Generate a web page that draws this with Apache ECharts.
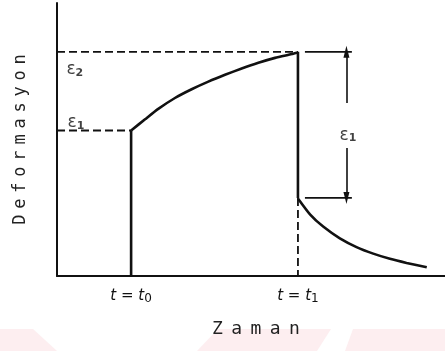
<!DOCTYPE html>
<html>
<head>
<meta charset="utf-8">
<script src="https://cdn.jsdelivr.net/npm/echarts@6/dist/echarts.min.js"></script>
<style>html,body{margin:0;padding:0;background:#fff}#c{width:445px;height:351px}</style>
</head>
<body>
<div id="c"></div>
<script>
// ---- data (arbitrary units, 0..10 on both axes) ----
const xRange = [0, 10];
const yRange = [0, 10];
const t0 = 1.91;
const t1 = 6.21;
const eps1Level = 5.33;
const eps2Level = 8.21;
const unloadLevel = 2.86;
const loadX = [1.91, 2.27, 2.61, 3.04, 3.47, 3.90, 4.33, 4.76, 5.19, 5.62, 6.05, 6.21];
const loadY = [5.33, 5.74, 6.12, 6.52, 6.84, 7.12, 7.37, 7.60, 7.81, 7.99, 8.13, 8.19];
const recX = [6.21, 6.52, 6.86, 7.29, 7.72, 8.15, 8.58, 9.01, 9.53];
const recY = [2.84, 2.26, 1.81, 1.38, 1.06, 0.82, 0.63, 0.48, 0.32];
const tickValues = [t0, t1];
const tickSubs = ['0', '1'];
const dimX = 7.46, dimLeft = 6.39, dimRight = 7.60;
const arrowTopEnd = 6.34, arrowBottomStart = 4.69;
const labelPoints = [[0.46, 7.55], [0.49, 5.62], [7.50, 5.16]];
const labelSubs = ['2', '1', '1'];
const xName = 'Zaman';
const yName = 'Deformasyon';

const zip = (xs, ys) => xs.map((x, i) => [x, ys[i]]);
const spaced = (s, style) => s.split('').map(ch => '{' + style + '|' + ch + '}').join('');

const solid = { color: '#111', width: 2.6 };
const dashed = { color: '#111', width: 1.8, type: [8, 4] };

const chart = echarts.init(document.getElementById('c'), null, { renderer: 'canvas' });
chart.setOption({
  backgroundColor: '#fff',
  animation: false,
  graphic: [
    { type: 'polygon', z: -10, shape: { points: [[0, 329], [33, 329], [57, 351], [0, 351]] }, style: { fill: '#fdeef0' } },
    { type: 'polygon', z: -10, shape: { points: [[218, 329], [331, 329], [317, 351], [197, 351]] }, style: { fill: '#fdeef0' } },
    { type: 'polygon', z: -10, shape: { points: [[353, 329], [445, 329], [445, 351], [345, 351]] }, style: { fill: '#fdeef0' } }
  ],
  grid: { left: 57, right: 0, top: 3, bottom: 75 },
  xAxis: {
    type: 'value', min: xRange[0], max: xRange[1],
    axisLine: { lineStyle: { color: '#111', width: 2 } },
    axisTick: { show: false },
    splitLine: { show: false },
    axisLabel: {
      customValues: tickValues,
      margin: 11,
      formatter: (v) => {
        const i = tickValues.indexOf(v);
        return '{t|t = t}{s|' + tickSubs[i] + '}';
      },
      rich: {
        t: { fontFamily: 'DejaVu Sans', fontStyle: 'italic', fontSize: 15, color: '#111' },
        s: { fontFamily: 'DejaVu Sans', fontSize: 12, color: '#111', verticalAlign: 'bottom', padding: [6, 0, 0, 0] }
      }
    },
    name: spaced(xName, 'c'),
    nameLocation: 'middle',
    nameGap: 44,
    nameTextStyle: {
      padding: [0, 0, 0, 10],
      rich: { c: { fontFamily: 'DejaVu Sans Mono', fontSize: 18, color: '#222', padding: [0, 4.2] } }
    }
  },
  yAxis: {
    type: 'value', min: yRange[0], max: yRange[1],
    axisLine: { lineStyle: { color: '#111', width: 2 } },
    axisTick: { show: false },
    splitLine: { show: false },
    axisLabel: { show: false },
    name: spaced(yName, 'c'),
    nameLocation: 'middle',
    nameGap: 28,
    nameTextStyle: {
      rich: { c: { fontFamily: 'DejaVu Sans Mono', fontSize: 17, color: '#222', padding: [0, 2.9] } }
    }
  },
  series: [
    { type: 'line', data: zip(loadX, loadY), smooth: 0.2, symbol: 'none', lineStyle: solid },
    { type: 'line', data: zip(recX, recY), smooth: 0.2, symbol: 'none', lineStyle: solid },
    { type: 'line', data: [[t0, 0], [t0, eps1Level]], symbol: 'none', lineStyle: solid },
    { type: 'line', data: [[t1, eps2Level], [t1, unloadLevel]], symbol: 'none', lineStyle: solid },
    { type: 'line', data: [[0, eps1Level], [t0, eps1Level]], symbol: 'none', lineStyle: dashed },
    { type: 'line', data: [[0, eps2Level], [t1, eps2Level]], symbol: 'none', lineStyle: dashed },
    { type: 'line', data: [[t1, unloadLevel], [t1, 0]], symbol: 'none', lineStyle: dashed },
    { type: 'line', data: [[dimLeft, eps2Level], [dimRight, eps2Level]], symbol: 'none', lineStyle: { color: '#111', width: 1.6 } },
    { type: 'line', data: [[dimLeft, unloadLevel], [dimRight, unloadLevel]], symbol: 'none', lineStyle: { color: '#111', width: 1.6 } },
    {
      type: 'line', data: [], symbol: 'none',
      markLine: {
        silent: true, symbol: ['none', 'triangle'], symbolSize: [6, 12],
        label: { show: false },
        lineStyle: { color: '#111', width: 1.6, type: 'solid' },
        data: [
          [{ coord: [dimX, arrowTopEnd] }, { coord: [dimX, eps2Level] }],
          [{ coord: [dimX, arrowBottomStart] }, { coord: [dimX, unloadLevel] }]
        ]
      }
    },
    {
      type: 'scatter', data: labelPoints, symbolSize: 1,
      itemStyle: { color: 'rgba(0,0,0,0)' },
      label: {
        show: true, position: 'inside',
        formatter: (p) => '{e|ε}{s|' + labelSubs[p.dataIndex] + '}',
        rich: {
          e: { fontFamily: 'DejaVu Sans', fontSize: 17, color: '#111' },
          s: { fontFamily: 'DejaVu Sans', fontSize: 11, fontWeight: 'bold', color: '#111', verticalAlign: 'bottom', padding: [7, 0, 0, 0] }
        }
      }
    }
  ]
});
</script>
</body>
</html>
